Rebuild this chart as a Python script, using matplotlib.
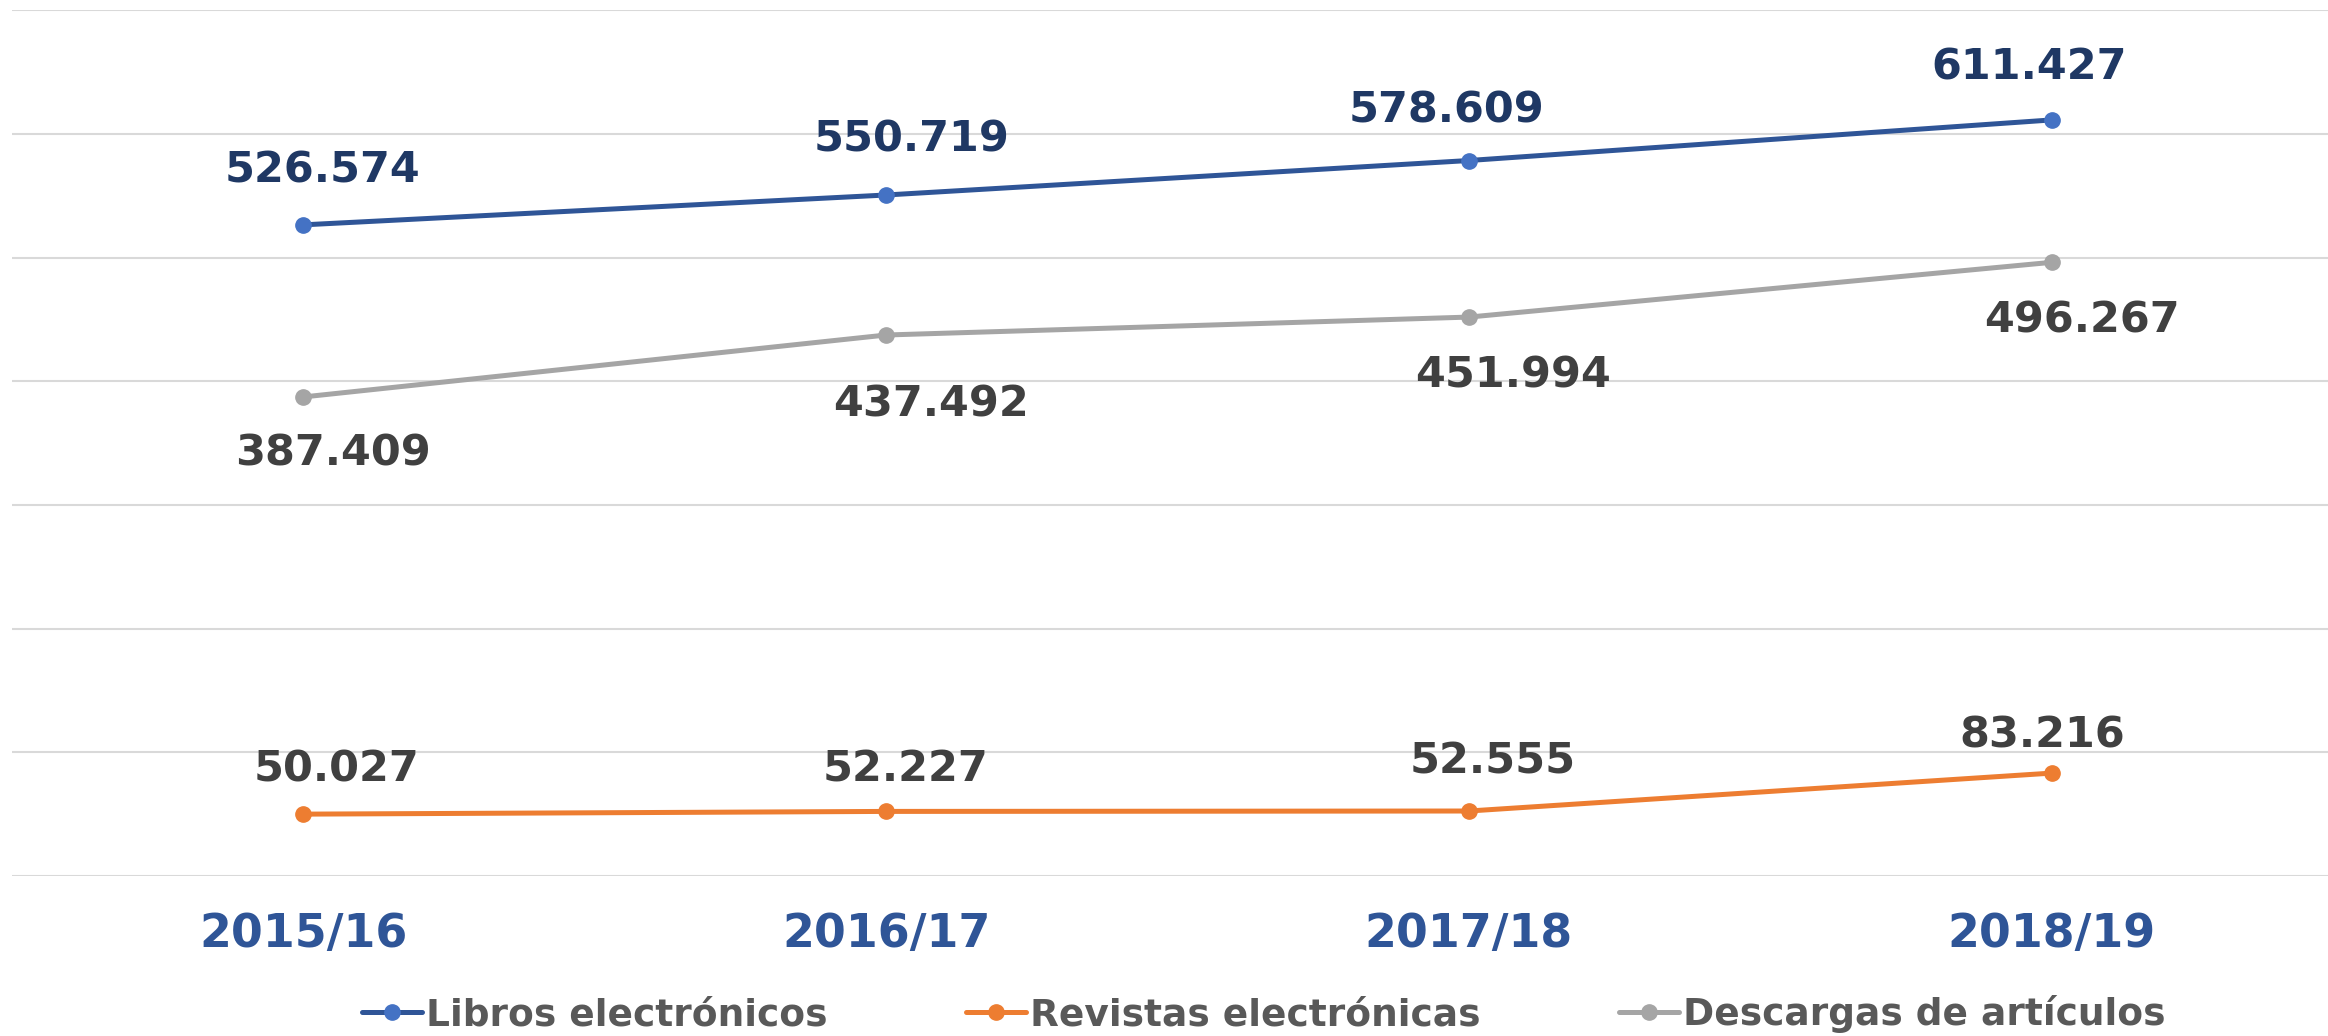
import numpy as np
import matplotlib
matplotlib.use("Agg")
import matplotlib.pyplot as plt

# Datos del gráfico
cursos = ["2015/16", "2016/17", "2017/18", "2018/19"]
libros = [526574, 550719, 578609, 611427]
revistas = [50027, 52227, 52555, 83216]
descargas = [387409, 437492, 451994, 496267]

nombres = ["Libros electrónicos", "Revistas electrónicas", "Descargas de artículos"]


def fmt(v):
    return f"{v:,}".replace(",", ".")


fig = plt.figure(figsize=(23.28, 10.36), dpi=100)
ax = fig.add_axes([12 / 2328, 1 - 876 / 1036, 1 - 12 / 2328, (876 - 10.4) / 1036])

x = np.arange(len(cursos))

l1, = ax.plot(x, libros, color="#2F5597", lw=3.6, marker="o", ms=11,
              mfc="#4472C4", mec="#4472C4", solid_capstyle="round", label=nombres[0])
l2, = ax.plot(x, revistas, color="#ED7D31", lw=3.6, marker="o", ms=11,
              mfc="#ED7D31", mec="#ED7D31", solid_capstyle="round", label=nombres[1])
l3, = ax.plot(x, descargas, color="#A5A5A5", lw=3.6, marker="o", ms=11,
              mfc="#A5A5A5", mec="#A5A5A5", solid_capstyle="round", label=nombres[2])

# etiquetas de datos (desplazamientos en puntos)
off_libros = [(14, 39), (18, 40), (-16, 36), (-16, 38)]
off_revistas = [(24, 32), (14, 30), (17, 36), (-7, 27)]
off_descargas = [(21, -41), (32, -50), (32, -42), (22, -42)]

for serie, offs, col in [(libros, off_libros, "#1F3864"),
                         (revistas, off_revistas, "#404040"),
                         (descargas, off_descargas, "#404040")]:
    for i, v in enumerate(serie):
        ax.annotate(fmt(v), (x[i], v), xytext=offs[i], textcoords="offset points",
                    ha="center", va="center", fontsize=31, fontweight="bold", color=col)

ax.set_ylim(0, 700000)
ax.set_xlim(-0.5, 3 + (2328 - 2052) / 582)
ax.set_yticks(np.arange(0, 700001, 100000))
ax.yaxis.grid(True, color="#D9D9D9", lw=1.5)
ax.set_axisbelow(True)
ax.tick_params(axis="y", left=False, labelleft=False)
ax.tick_params(axis="x", length=0, pad=26)
ax.set_xticks(x)
ax.set_xticklabels(cursos, fontsize=33, fontweight="bold", color="#2F5597")
for s in ax.spines.values():
    s.set_visible(False)

fig.legend(handles=[l1, l2, l3], loc="center", bbox_to_anchor=(0.5428, 1 - 1014 / 1036),
           ncol=3, frameon=False, prop={"size": 27, "weight": "bold"},
           labelcolor="#595959", handlelength=1.6, handletextpad=0.1,
           columnspacing=3.7, borderaxespad=0)

fig.savefig("out.png", dpi=100)
